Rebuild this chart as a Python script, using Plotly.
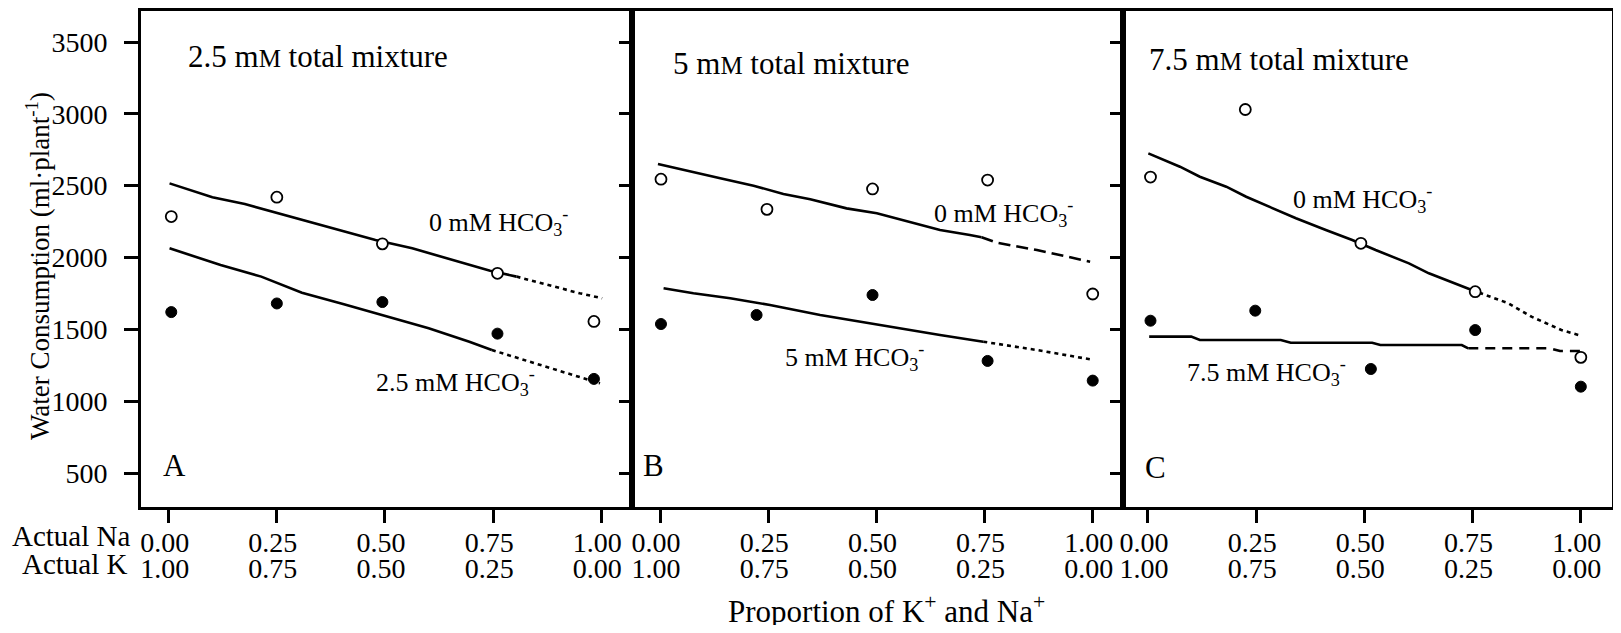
import plotly.graph_objects as go

FONT = "Liberation Serif, Times New Roman, serif"

# ---------------- data ----------------
tick_vals = [0, 0.25, 0.5, 0.75, 1.0]
na_labels = ["0.00", "0.25", "0.50", "0.75", "1.00"]
k_labels = ["1.00", "0.75", "0.50", "0.25", "0.00"]
row_names = ["Actual Na", "Actual K"]
y_ticks = [500, 1000, 1500, 2000, 2500, 3000, 3500]

# Panel A: 2.5 mM total mixture
A_x_open = [0.006, 0.25, 0.494, 0.76, 0.983]
A_y_open = [2285, 2420, 2095, 1890, 1555]
A_x_fill = [0.006, 0.25, 0.494, 0.76, 0.983]
A_y_fill = [1620, 1680, 1690, 1470, 1155]
A_up_x = [0.002, 0.101, 0.176, 0.252, 0.365, 0.478, 0.563, 0.648, 0.743, 0.804]
A_up_y = [2516, 2419, 2372, 2308, 2214, 2122, 2064, 1988, 1908, 1867]
A_upx_x = [0.804, 0.95, 1.002]
A_upx_y = [1867, 1751, 1716]
A_lo_x = [0.002, 0.120, 0.214, 0.308, 0.403, 0.507, 0.601, 0.695, 0.747]
A_lo_y = [2064, 1948, 1867, 1755, 1676, 1588, 1507, 1414, 1356]
A_lox_x = [0.747, 0.997]
A_lox_y = [1356, 1124]

# Panel B: 5 mM total mixture
B_x_open = [0.002, 0.247, 0.491, 0.757, 1.0]
B_y_open = [2545, 2335, 2477, 2539, 1746]
B_x_fill = [0.002, 0.223, 0.491, 0.757, 1.0]
B_y_fill = [1537, 1600, 1739, 1280, 1143]
B_up_x = [-0.005, 0.069, 0.139, 0.216, 0.285, 0.347, 0.431, 0.501, 0.578, 0.647, 0.716, 0.743]
B_up_y = [2651, 2597, 2551, 2500, 2442, 2405, 2342, 2308, 2249, 2191, 2157, 2141]
B_upx_x = [0.743, 0.778, 0.871, 0.994]
B_upx_y = [2141, 2103, 2052, 1971]
B_lo_x = [0.008, 0.077, 0.162, 0.254, 0.37, 0.462, 0.555, 0.647, 0.747]
B_lo_y = [1786, 1751, 1716, 1669, 1600, 1553, 1507, 1461, 1414]
B_lox_x = [0.747, 0.871, 1.002]
B_lox_y = [1414, 1356, 1287]

# Panel C: 7.5 mM total mixture
C_x_open = [0.006, 0.225, 0.492, 0.756, 1.0]
C_y_open = [2560, 3030, 2099, 1762, 1305]
C_x_fill = [0.006, 0.248, 0.515, 0.756, 1.0]
C_y_fill = [1560, 1630, 1224, 1495, 1101]
C_up_x = [0.001, 0.074, 0.12, 0.181, 0.227, 0.288, 0.342, 0.411, 0.472, 0.526, 0.603, 0.649, 0.718, 0.748]
C_up_y = [2725, 2632, 2562, 2493, 2423, 2342, 2273, 2191, 2122, 2052, 1959, 1890, 1809, 1774]
C_upx_x = [0.748, 0.833, 0.886, 0.955, 0.994]
C_upx_y = [1774, 1681, 1588, 1495, 1461]
C_lo_x = [0.003, 0.1, 0.12, 0.307, 0.33, 0.518, 0.537, 0.725, 0.74]
C_lo_y = [1449, 1449, 1426, 1426, 1407, 1407, 1391, 1391, 1368]
C_lox_x = [0.74, 0.929, 0.952, 1.001]
C_lox_y = [1368, 1368, 1349, 1349]

panel_titles = ["2.5 m<span style='font-size:25px'>M</span> total mixture",
                "5 m<span style='font-size:25px'>M</span> total mixture",
                "7.5 m<span style='font-size:25px'>M</span> total mixture"]
panel_letters = ["A", "B", "C"]
upper_labels = ["0 mM HCO<sub>3</sub><sup>-</sup>"] * 3
lower_labels = ["2.5 mM HCO<sub>3</sub><sup>-</sup>", "5 mM HCO<sub>3</sub><sup>-</sup>",
                "7.5 mM HCO<sub>3</sub><sup>-</sup>"]

# ---------------- styling / layout (positions) ----------------
DOT = "4px,4px"
DASH_B = "12px,6px"
DASH_C = "10px,7px"

panels = [
    dict(xo=A_x_open, yo=A_y_open, xf=A_x_fill, yf=A_y_fill,
         ux=A_up_x, uy=A_up_y, uxx=A_upx_x, uxy=A_upx_y, udash=DOT,
         lx=A_lo_x, ly=A_lo_y, lxx=A_lox_x, lxy=A_lox_y, ldash=DOT,
         xr=[-0.064, 1.071],
         title_pos=(0.040, 3400), up_pos=(0.597, 2245), lo_pos=(0.474, 1136),
         letter_pos=(0.0125, 549)),
    dict(xo=B_x_open, yo=B_y_open, xf=B_x_fill, yf=B_y_fill,
         ux=B_up_x, uy=B_up_y, uxx=B_upx_x, uxy=B_upx_y, udash=DASH_B,
         lx=B_lo_x, ly=B_lo_y, lxx=B_lox_x, lxy=B_lox_y, ldash=DOT,
         xr=[-0.065, 1.070],
         title_pos=(0.025, 3352), up_pos=(0.628, 2308), lo_pos=(0.283, 1307),
         letter_pos=(-0.016, 549)),
    dict(xo=C_x_open, yo=C_y_open, xf=C_x_fill, yf=C_y_fill,
         ux=C_up_x, uy=C_up_y, uxx=C_upx_x, uxy=C_upx_y, udash=DOT,
         lx=C_lo_x, ly=C_lo_y, lxx=C_lox_x, lxy=C_lox_y, ldash=DASH_C,
         xr=[-0.0575, 1.072],
         title_pos=(-0.002, 3376), up_pos=(0.331, 2405), lo_pos=(0.085, 1203),
         letter_pos=(0.018, 535)),
]

# The page body has an 8px default margin; the figure is sized/offset so that
# its drawing lands where the reference has it.
OFF = 8
W, H = 1621 - 2 * OFF, 633 - 2 * OFF
REF_L, REF_R, REF_T, REF_B = 141, 1612, 11, 507      # plot frame in reference pixels
ML, MT = REF_L - OFF, REF_T - OFF
MR, MB = W - (REF_R - OFF), H - (REF_B - OFF)
PW = REF_R - REF_L
PH = REF_B - REF_T
edges = [141, 632, 1123, 1612]
doms = [[(edges[i] - REF_L) / PW, (edges[i + 1] - REF_L) / PW] for i in range(3)]
YR = [500 - (REF_B - 473) / 0.14367, 3500 + (42 - REF_T) / 0.14367]


def paper_x(px):
    return (px - REF_L) / PW


def paper_y(py):
    return 1 - (py - REF_T) / PH


fig = go.Figure()
LW = 2.6
annotations = []
TF = dict(family=FONT, size=28, color="black")

for i, p in enumerate(panels):
    sfx = "" if i == 0 else str(i + 1)
    xa, ya = "x" + sfx, "y" + sfx
    # fitted lines
    fig.add_trace(go.Scatter(x=p["ux"], y=p["uy"], mode="lines", xaxis=xa, yaxis=ya,
                             line=dict(color="black", width=LW), showlegend=False))
    fig.add_trace(go.Scatter(x=p["uxx"], y=p["uxy"], mode="lines", xaxis=xa, yaxis=ya,
                             line=dict(color="black", width=LW, dash=p["udash"]), showlegend=False))
    fig.add_trace(go.Scatter(x=p["lx"], y=p["ly"], mode="lines", xaxis=xa, yaxis=ya,
                             line=dict(color="black", width=LW), showlegend=False))
    fig.add_trace(go.Scatter(x=p["lxx"], y=p["lxy"], mode="lines", xaxis=xa, yaxis=ya,
                             line=dict(color="black", width=LW, dash=p["ldash"]), showlegend=False))
    # points
    fig.add_trace(go.Scatter(x=p["xo"], y=p["yo"], mode="markers", xaxis=xa, yaxis=ya,
                             marker=dict(symbol="circle", size=11, color="white",
                                         line=dict(color="black", width=1.8)),
                             showlegend=False))
    fig.add_trace(go.Scatter(x=p["xf"], y=p["yf"], mode="markers", xaxis=xa, yaxis=ya,
                             marker=dict(symbol="circle", size=11, color="black",
                                         line=dict(color="black", width=1)),
                             showlegend=False))
    # invisible carrier traces so the helper axes are drawn
    fig.add_trace(go.Scatter(x=p["xf"], y=p["yf"], mode="markers", xaxis="x" + str(i + 4),
                             yaxis=ya, marker=dict(opacity=0), hoverinfo="skip",
                             showlegend=False))
    if i < 2:
        fig.add_trace(go.Scatter(x=p["xf"], y=p["yf"], mode="markers", xaxis=xa,
                                 yaxis="y" + str(i + 4), marker=dict(opacity=0),
                                 hoverinfo="skip", showlegend=False))

    # main axes
    fig.layout["xaxis" + sfx] = dict(
        domain=doms[i], range=p["xr"], anchor=ya, showline=True, linecolor="black",
        linewidth=3, mirror=True, ticks="outside", ticklen=13, tickwidth=3, tickcolor="black",
        tickvals=tick_vals, ticktext=na_labels, showgrid=False, zeroline=False,
        tickfont=TF, ticklabelstandoff=-5, ticklabelshift=-4, automargin=False)
    fig.layout["yaxis" + sfx] = dict(
        domain=[0, 1], range=YR, anchor=xa, showline=True, linecolor="black", linewidth=3,
        mirror=True, ticks="outside" if i == 0 else "", ticklen=14, tickwidth=3,
        tickcolor="black", tickvals=y_ticks, showticklabels=(i == 0), showgrid=False,
        zeroline=False, tickfont=TF, ticklabelstandoff=11, automargin=False)
    # second row of tick labels (Actual K)
    fig.layout["xaxis" + str(i + 4)] = dict(
        overlaying=xa, anchor=ya, side="bottom", range=p["xr"], showline=False,
        ticks="outside", ticklen=13, tickwidth=1, tickcolor="rgba(0,0,0,0)",
        tickvals=tick_vals, ticktext=k_labels, showgrid=False, zeroline=False,
        tickfont=TF, ticklabelstandoff=23, ticklabelshift=-4, automargin=False)
    # inward ticks on the right edge of panels A and B
    if i < 2:
        fig.layout["yaxis" + str(i + 4)] = dict(
            overlaying=ya, anchor=xa, side="right", range=YR, showline=False,
            ticks="inside", ticklen=13, tickwidth=3, tickcolor="black", tickvals=y_ticks,
            showticklabels=False, showgrid=False, zeroline=False, automargin=False)

    annotations += [
        dict(x=p["title_pos"][0], y=p["title_pos"][1], xref=xa, yref=ya, text=panel_titles[i],
             showarrow=False, xanchor="left", yanchor="middle",
             font=dict(family=FONT, size=31, color="black")),
        dict(x=p["up_pos"][0], y=p["up_pos"][1], xref=xa, yref=ya, text=upper_labels[i],
             showarrow=False, xanchor="left", yanchor="middle",
             font=dict(family=FONT, size=26, color="black")),
        dict(x=p["lo_pos"][0], y=p["lo_pos"][1], xref=xa, yref=ya, text=lower_labels[i],
             showarrow=False, xanchor="left", yanchor="middle",
             font=dict(family=FONT, size=26, color="black")),
        dict(x=p["letter_pos"][0], y=p["letter_pos"][1], xref=xa, yref=ya, text=panel_letters[i],
             showarrow=False, xanchor="center", yanchor="middle",
             font=dict(family=FONT, size=31, color="black")),
    ]

annotations += [
    dict(x=paper_x(38), y=paper_y(266), xref="paper", yref="paper",
         text="Water Consumption (ml·plant<sup>-1</sup>)", textangle=-90, showarrow=False,
         xanchor="center", yanchor="middle", font=dict(family=FONT, size=27, color="black")),
    dict(x=paper_x(886), y=paper_y(609), xref="paper", yref="paper",
         text="Proportion of K<sup>+</sup> and Na<sup>+</sup>", showarrow=False,
         xanchor="center", yanchor="middle", font=dict(family=FONT, size=31, color="black")),
    dict(x=paper_x(132), y=paper_y(536), xref="paper", yref="paper",
         text=row_names[0], showarrow=False,
         xanchor="right", yanchor="middle", font=dict(family=FONT, size=29, color="black")),
    dict(x=paper_x(130), y=paper_y(564), xref="paper", yref="paper",
         text=row_names[1], showarrow=False,
         xanchor="right", yanchor="middle", font=dict(family=FONT, size=29, color="black")),
]

fig.update_layout(
    template="none",
    width=W, height=H, margin=dict(l=ML, r=MR, t=MT, b=MB, autoexpand=False),
    paper_bgcolor="white", plot_bgcolor="white", showlegend=False,
    annotations=annotations, font=dict(family=FONT, color="black"),
)

fig.write_html("out.html")
